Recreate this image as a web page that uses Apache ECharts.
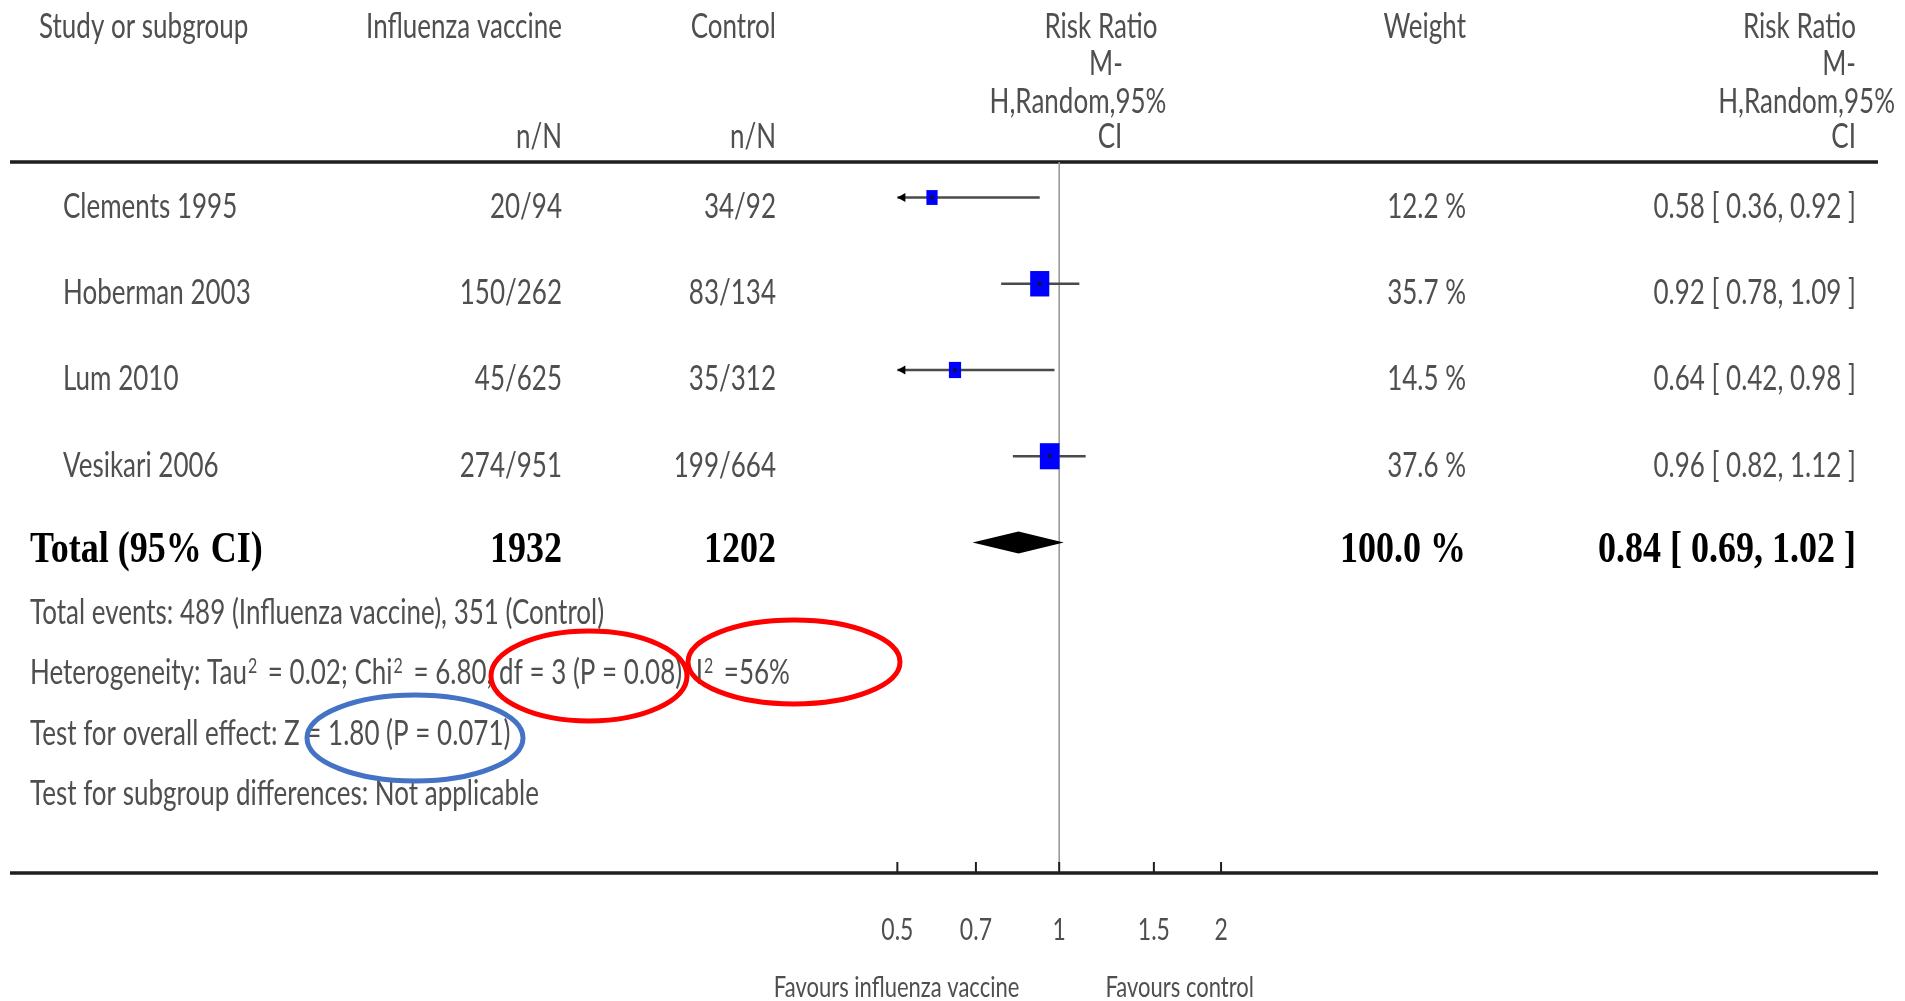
<!DOCTYPE html>
<html><head><meta charset="utf-8">
<script src="https://cdn.jsdelivr.net/npm/echarts@6/dist/echarts.min.js"></script>
<style>html,body{margin:0;padding:0;background:#fff}#c{width:1905px;height:1001px}</style>
</head><body><div id="c"></div>
<script>
// ---------- data ----------
const studies = ['Clements 1995', 'Hoberman 2003', 'Lum 2010', 'Vesikari 2006'];
const vaccineNN = ['20/94', '150/262', '45/625', '274/951'];
const controlNN = ['34/92', '83/134', '35/312', '199/664'];
const weights = [12.2, 35.7, 14.5, 37.6];
const riskRatio = [0.58, 0.92, 0.64, 0.96];
const ciLow = [0.36, 0.78, 0.42, 0.82];
const ciHigh = [0.92, 1.09, 0.98, 1.12];

const totalLabel = 'Total (95% CI)';
const totalVaccine = '1932';
const totalControl = '1202';
const totalWeight = 100.0;
const totalRR = [0.84];
const totalLow = [0.69];
const totalHigh = [1.02];

const tickValues = [0.5, 0.7, 1, 1.5, 2];
const tickLabels = ['0.5', '0.7', '1', '1.5', '2'];
const axisMin = 0.5, axisMax = 2;
const favourLabels = ['Favours influenza vaccine', 'Favours control'];

const headerRow1 = ['Study or subgroup', 'Influenza vaccine', 'Control', 'Risk Ratio', 'Weight', 'Risk Ratio'];
const headerRR = ['M-', 'H,Random,95%', 'CI'];
const headerNN = ['n/N', 'n/N'];

const footnotes = [
  'Total events: 489 (Influenza vaccine), 351 (Control)',
  'Heterogeneity: Tau{s|2} = 0.02; Chi{s|2} = 6.80, df = 3 (P = 0.08); I{s|2} =56%',
  'Test for overall effect: Z = 1.80 (P = 0.071)',
  'Test for subgroup differences: Not applicable'
];

// ---------- layout ----------
const GREY = '#4f4f4f';
const FONT = '26px Lato';
const SMALL = '26px Lato';
const BOLD = 'bold 36px "Liberation Serif"';
const SY = 1.3;
const COL = { name: 63, total: 30, vac: 562, ctl: 776, wt: 1466, rr: 1856 };
const Y_MIN = -0.4116, Y_MAX = 7.832;

function T(x, y, text, align, font, fill, sy) {
  return { type: 'text', x: x, y: y, scaleY: sy || SY, silent: true,
    style: { text: text, x: 0, y: 0, align: align || 'left', verticalAlign: 'middle',
      font: font || FONT, fill: fill || GREY,
      rich: { s: { font: '16px Lato', fill: GREY, verticalAlign: 'top', padding: [0, 4, 0, 1] } } } };
}
const fmt = v => v.toFixed(2);

const chart = echarts.init(document.getElementById('c'), null, { renderer: 'canvas' });

const graphic = [
  // header
  T(39, 27, headerRow1[0], 'left'),
  T(562, 27, headerRow1[1], 'right'),
  T(776, 27, headerRow1[2], 'right'),
  T(1101, 27, headerRow1[3], 'center'),
  T(1466, 27, headerRow1[4], 'right'),
  T(1856, 27, headerRow1[5], 'right'),
  T(1106, 64.5, headerRR[0], 'center'),
  T(1078, 102, headerRR[1], 'center'),
  T(1110, 137.5, headerRR[2], 'center'),
  T(1856, 64.5, headerRR[0], 'right'),
  T(1895, 102, headerRR[1], 'right'),
  T(1856, 137.5, headerRR[2], 'right'),
  T(562, 137.5, headerNN[0], 'right'),
  T(776, 137.5, headerNN[1], 'right'),
  // rules
  { type: 'line', shape: { x1: 10, y1: 162, x2: 1878, y2: 162 }, style: { stroke: '#1e1e1e', lineWidth: 3.5 } },
  { type: 'line', shape: { x1: 10, y1: 873, x2: 1878, y2: 873 }, style: { stroke: '#1e1e1e', lineWidth: 3.5 } },
  // favours
  T(896.6, 988, favourLabels[0], 'center', '22px Lato'),
  T(1179.7, 988, favourLabels[1], 'center', '22px Lato')
];
const footY = [613, 673, 734, 794];
footnotes.forEach((f, i) => graphic.push(T(30, footY[i], f, 'left', SMALL)));
// annotation ellipses
graphic.push(
  { type: 'ellipse', shape: { cx: 589, cy: 676, rx: 98, ry: 45 }, style: { fill: 'none', stroke: '#ff0000', lineWidth: 5 } },
  { type: 'ellipse', shape: { cx: 794, cy: 662, rx: 106, ry: 42 }, style: { fill: 'none', stroke: '#ff0000', lineWidth: 5 } },
  { type: 'ellipse', shape: { cx: 415, cy: 738, rx: 108, ry: 43 }, style: { fill: 'none', stroke: '#4472c4', lineWidth: 5 } }
);

function renderStudy(params, api) {
  const i = params.dataIndex;
  const yv = api.value(1);
  const lo = api.value(2), hi = api.value(3);
  const pLo = api.coord([Math.max(lo, axisMin), yv]);
  const pHi = api.coord([Math.min(hi, axisMax), yv]);
  const pC = api.coord([api.value(0), yv]);
  const w = 3.2 * Math.sqrt(api.value(4)), h = w * 1.33;
  const ch = [
    { type: 'line', shape: { x1: pLo[0], y1: pLo[1], x2: pHi[0], y2: pHi[1] }, style: { stroke: '#4a4a4a', lineWidth: 2.5 } },
    { type: 'rect', shape: { x: pC[0] - w / 2, y: pC[1] - h / 2, width: w, height: h }, style: { fill: '#0000ff' } },
    { type: 'circle', shape: { cx: pC[0], cy: pC[1], r: 2.2 }, style: { fill: '#10104a' } }
  ];
  if (lo < axisMin) ch.push({ type: 'polygon', shape: { points: [[pLo[0], pLo[1]], [pLo[0] + 8, pLo[1] - 4.5], [pLo[0] + 8, pLo[1] + 4.5]] }, style: { fill: '#000' } });
  if (hi > axisMax) ch.push({ type: 'polygon', shape: { points: [[pHi[0], pHi[1]], [pHi[0] - 8, pHi[1] - 4.5], [pHi[0] - 8, pHi[1] + 4.5]] }, style: { fill: '#000' } });
  const ty = pC[1] + 9.5;
  ch.push(
    T(COL.name, ty, studies[i], 'left'),
    T(COL.vac, ty, vaccineNN[i], 'right'),
    T(COL.ctl, ty, controlNN[i], 'right'),
    T(COL.wt, ty, weights[i].toFixed(1) + ' %', 'right'),
    T(COL.rr, ty, fmt(riskRatio[i]) + ' [ ' + fmt(ciLow[i]) + ', ' + fmt(ciHigh[i]) + ' ]', 'right')
  );
  return { type: 'group', children: ch };
}

function renderTotal(params, api) {
  const yv = api.value(1);
  const pL = api.coord([api.value(2), yv]);
  const pH = api.coord([api.value(3), yv]);
  const pC = api.coord([api.value(0), yv]);
  const hh = 11;
  const ty = pC[1] + 8;
  return { type: 'group', children: [
    { type: 'polygon', shape: { points: [[pL[0], pL[1]], [pC[0], pC[1] - hh], [pH[0], pH[1]], [pC[0], pC[1] + hh]] }, style: { fill: '#000' } },
    T(COL.total, ty, totalLabel, 'left', BOLD, '#000', 1.22),
    T(COL.vac, ty, totalVaccine, 'right', BOLD, '#000', 1.22),
    T(COL.ctl, ty, totalControl, 'right', BOLD, '#000', 1.22),
    T(COL.wt, ty, totalWeight.toFixed(1) + ' %', 'right', BOLD, '#000', 1.22),
    T(COL.rr, ty, fmt(api.value(0)) + ' [ ' + fmt(api.value(2)) + ', ' + fmt(api.value(3)) + ' ]', 'right', BOLD, '#000', 1.22)
  ] };
}

function renderRef(params, api) {
  const top = api.coord([api.value(0), Y_MIN]);
  const bot = api.coord([api.value(0), Y_MAX]);
  return { type: 'line', shape: { x1: top[0], y1: top[1], x2: bot[0], y2: bot[1] }, style: { stroke: '#9a9a9a', lineWidth: 1.6 } };
}

function renderTick(params, api) {
  const p = api.coord([api.value(0), Y_MAX]);
  return { type: 'group', children: [
    { type: 'line', shape: { x1: p[0], y1: p[1], x2: p[0], y2: p[1] - 11 }, style: { stroke: '#1e1e1e', lineWidth: 2 } },
    T(p[0], 930, tickLabels[params.dataIndex], 'center', '23px Lato')
  ] };
}

chart.setOption({
  backgroundColor: '#fff',
  animation: false,
  grid: { left: 897.35, right: 1905 - 1221.05, top: 162, bottom: 1001 - 873, containLabel: false },
  xAxis: { type: 'log', logBase: 10, min: axisMin, max: axisMax, show: false },
  yAxis: { type: 'value', inverse: true, min: Y_MIN, max: Y_MAX, show: false },
  graphic: graphic,
  series: [
    { type: 'custom', name: 'ref', clip: false, silent: true, renderItem: renderRef, data: [[1]], z: 1 },
    { type: 'custom', name: 'ticks', clip: false, silent: true, renderItem: renderTick, data: tickValues.map(v => [v]), z: 2 },
    { type: 'custom', name: 'studies', clip: false, silent: true, renderItem: renderStudy,
      data: studies.map((s, i) => [riskRatio[i], i, ciLow[i], ciHigh[i], weights[i]]), z: 3 },
    { type: 'custom', name: 'total', clip: false, silent: true, renderItem: renderTotal,
      data: [[totalRR[0], 4, totalLow[0], totalHigh[0]]], z: 3 }
  ]
});
</script>
</body></html>
